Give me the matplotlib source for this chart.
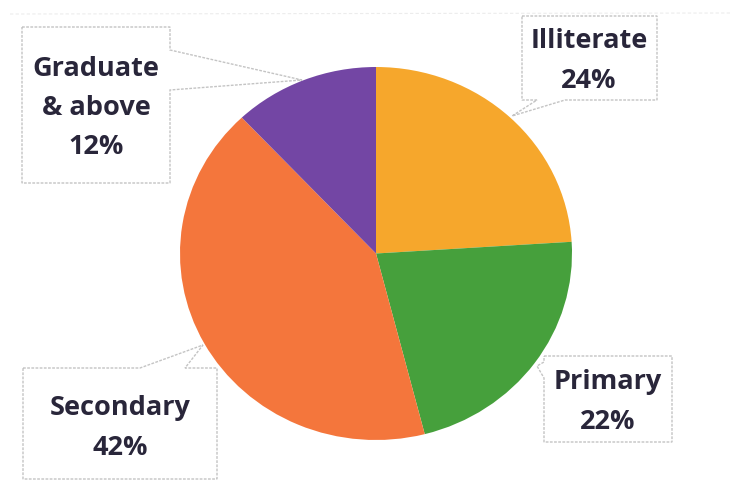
import matplotlib
matplotlib.use("Agg")
import matplotlib.pyplot as plt
from matplotlib.patches import Polygon

# Education level shares (percent), drawn clockwise from 12 o'clock
categories = ["Illiterate", "Primary", "Secondary", "Graduate\n& above"]
shares = [24, 22, 42, 12]
colors = ["#F6A72C", "#46A03C", "#F4763C", "#7346A4"]

W, H = 735, 487
fig = plt.figure(figsize=(W / 100, H / 100), dpi=100)
fig.patch.set_facecolor("white")

# pie axes placed over the pie's bounding box (slightly squashed vertically)
px0, px1, py0, py1 = 180, 572, 67, 440
pie_ax = fig.add_axes([px0 / W, 1 - py1 / H, (px1 - px0) / W, (py1 - py0) / H])
pie_ax.pie(shares, colors=colors, startangle=90, counterclock=False,
           radius=1.0, wedgeprops=dict(linewidth=0))
pie_ax.set_aspect("auto")
pie_ax.set_xlim(-1, 1)
pie_ax.set_ylim(-1, 1)
pie_ax.axis("off")

# overlay axes in pixel coordinates for the callout labels
ov = fig.add_axes([0, 0, 1, 1], zorder=5)
ov.set_xlim(0, W)
ov.set_ylim(H, 0)
ov.axis("off")
ov.patch.set_alpha(0)

# faint rule along the top
ov.plot([10, 730], [14, 13], color="#ececec", lw=0.8, ls=(0, (3, 2)))

callouts = [
    # label text, outline vertices, text centre
    (f"{categories[0]}\n{shares[0]}%",
     [(522, 16), (657, 16), (657, 100), (565, 100), (512, 116), (537, 100), (522, 100)],
     (589, 61)),
    (f"{categories[1]}\n{shares[1]}%",
     [(544, 356), (672, 356), (672, 442), (544, 442), (544, 378), (537, 366), (544, 362)],
     (608, 402)),
    (f"{categories[2]}\n{shares[2]}%",
     [(23, 368), (140, 368), (203, 345), (185, 368), (217, 368), (217, 479), (23, 479)],
     (120, 428)),
    (f"{categories[3]}\n{shares[3]}%",
     [(22, 27), (170, 27), (170, 50), (302, 80), (170, 90), (170, 183), (22, 183)],
     (96, 108)),
]

for text, verts, (tx, ty) in callouts:
    ov.add_patch(Polygon(verts, closed=True, facecolor="white",
                         edgecolor="#c4c4c4", lw=1.0, ls=(0, (2, 1))))
    ov.text(tx, ty, text, ha="center", va="center", fontsize=19.5,
            fontweight="bold", family=["Open Sans", "DejaVu Sans"], color="#29263a",
            linespacing=1.66)

fig.savefig("out.png", dpi=100, facecolor="white")
